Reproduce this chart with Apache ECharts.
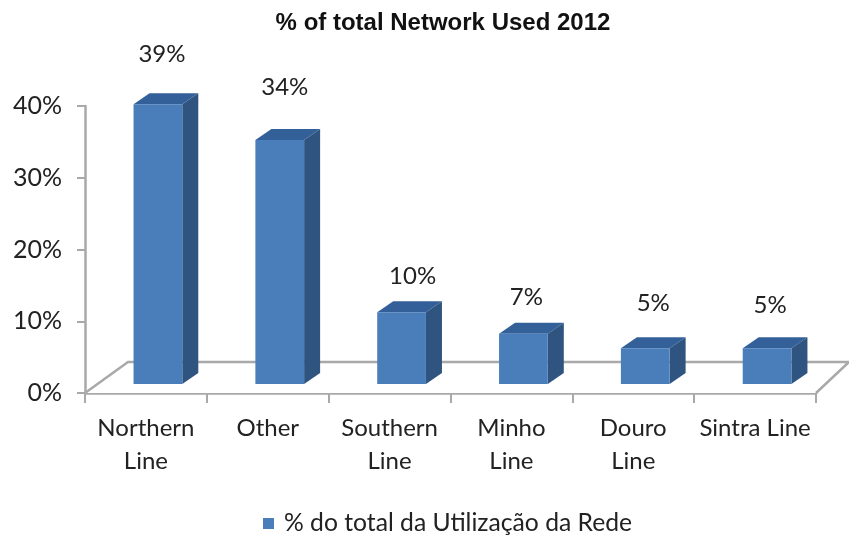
<!DOCTYPE html>
<html>
<head>
<meta charset="utf-8">
<style>html,body{margin:0;padding:0;background:#fff}#chart{width:849px;height:540px}</style>
<script src="https://cdn.jsdelivr.net/npm/echarts@6/dist/echarts.min.js"></script>
</head>
<body>
<div id="chart"></div>
<script>
var categories = ['Northern\nLine', 'Other', 'Southern\nLine', 'Minho\nLine', 'Douro\nLine', 'Sintra Line'];
var shares = [39, 34, 10, 7, 5, 5];
var yTicks = [0, 10, 20, 30, 40];
var seriesName = '% do total da Utilização da Rede';

// label offsets above each bar, the source chart places them by hand
var labelNudge = [[4, -50], [5, -53], [11, -36], [3, -37], [8, -45], [3, -43]];

var font = 'Lato';
var myChart = echarts.init(document.getElementById('chart'));

function renderFloor(params, api) {
    var c = params.coordSys;
    var x0 = c.x, y0 = c.y + c.height, x1 = c.x + c.width;
    return {
        type: 'polyline',
        shape: { points: [[x0, y0], [x0 + 43, y0 - 31], [x1 + 33, y0 - 31], [x1, y0]] },
        style: { fill: '#fff', stroke: '#a9a9a9', lineWidth: 2.5 },
        silent: true
    };
}

function renderBar(params, api) {
    var i = api.value(0);
    var val = api.value(1);
    var top = api.coord([i, val]);
    var bottom = api.coord([i, 0]);
    var w = api.size([1, 0])[0] * 0.4;
    var d = [16, -11];
    var x = top[0] + 12 - w / 2;
    var yT = top[1] - 9;
    var yB = bottom[1] - 9;
    return {
        type: 'group',
        children: [
            {
                type: 'polygon',
                shape: { points: [[x, yT], [x + d[0], yT + d[1]], [x + w + d[0], yT + d[1]], [x + w, yT]] },
                style: { fill: '#34609a' }
            },
            {
                type: 'polygon',
                shape: { points: [[x + w, yT], [x + w + d[0], yT + d[1]], [x + w + d[0], yB + d[1]], [x + w, yB]] },
                style: { fill: '#2f5480' }
            },
            {
                type: 'rect',
                shape: { x: x, y: yT, width: w, height: yB - yT },
                style: { fill: '#4a7ebb' }
            },
            {
                type: 'text',
                style: {
                    x: x + w / 2 + labelNudge[i][0],
                    y: yT + labelNudge[i][1],
                    text: val + '%',
                    font: '24px ' + font,
                    fill: '#222',
                    align: 'center',
                    verticalAlign: 'middle'
                }
            }
        ]
    };
}

var barData = shares.map(function (v, i) { return [i, v]; });

var option = {
    animation: false,
    title: {
        text: '% of total Network Used 2012',
        left: 438,
        textAlign: 'center',
        top: 6,
        textStyle: { fontFamily: 'Liberation Sans', fontSize: 24, fontWeight: 'bold', color: '#111' }
    },
    legend: {
        data: [seriesName],
        left: 258,
        top: 506,
        icon: 'rect',
        itemWidth: 11,
        itemHeight: 11,
        textStyle: { fontFamily: font, fontSize: 24.7, color: '#222', padding: [0, 0, 0, 5] }
    },
    grid: { left: 85, right: 33, top: 106, bottom: 147 },
    xAxis: {
        type: 'category',
        data: categories,
        axisLine: { lineStyle: { color: '#a9a9a9', width: 2.5 } },
        axisTick: { show: true, length: 10, alignWithLabel: false, lineStyle: { color: '#a9a9a9', width: 2 } },
        axisLabel: {
            interval: 0,
            margin: 19,
            lineHeight: 33,
            fontFamily: font,
            fontSize: 24,
            color: '#222'
        }
    },
    yAxis: {
        type: 'value',
        min: yTicks[0],
        max: yTicks[yTicks.length - 1],
        interval: 10,
        splitLine: { show: false },
        axisLine: { show: true, lineStyle: { color: '#a9a9a9', width: 2.5 } },
        axisTick: { show: true, length: 8, lineStyle: { color: '#a9a9a9', width: 2 } },
        axisLabel: {
            margin: 23,
            formatter: '{value}%',
            fontFamily: font,
            fontSize: 25,
            color: '#222'
        }
    },
    series: [
        {
            type: 'custom',
            name: 'floor',
            renderItem: renderFloor,
            data: [[0, 0]],
            silent: true,
            z: 1
        },
        {
            type: 'custom',
            name: seriesName,
            renderItem: renderBar,
            data: barData,
            itemStyle: { color: '#4a7ebb' },
            z: 5
        }
    ]
};

myChart.setOption(option);
</script>
</body>
</html>
